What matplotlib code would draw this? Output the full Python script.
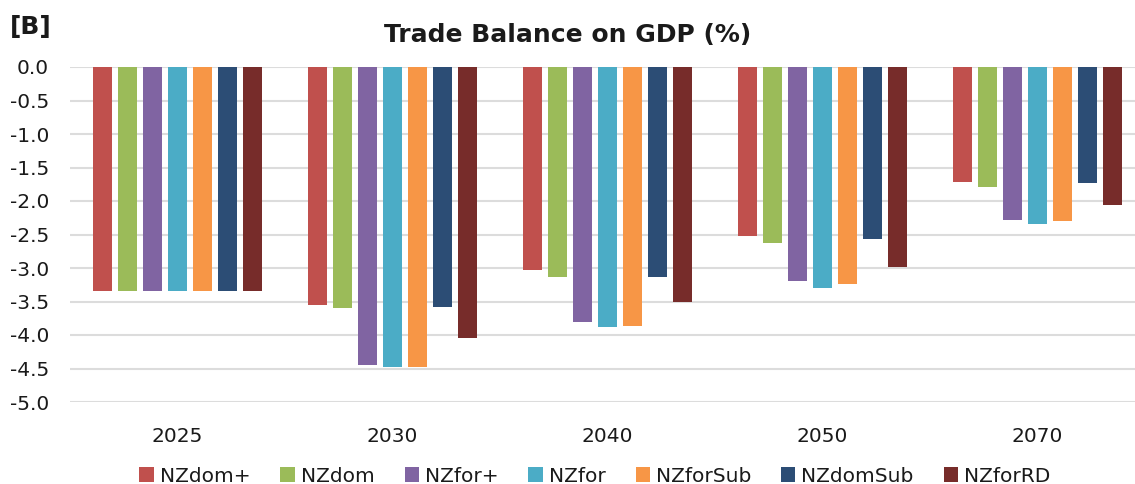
import numpy as np
import matplotlib
matplotlib.use("Agg")
from matplotlib import pyplot as plt

years = ["2025", "2030", "2040", "2050", "2070"]
scenarios = ["NZdom+", "NZdom", "NZfor+", "NZfor", "NZforSub", "NZdomSub", "NZforRD"]

nzdom_plus = [-3.35, -3.55, -3.03, -2.52, -1.72]
nzdom = [-3.35, -3.59, -3.13, -2.63, -1.79]
nzfor_plus = [-3.35, -4.45, -3.80, -3.20, -2.29]
nzfor = [-3.35, -4.48, -3.88, -3.30, -2.34]
nzfor_sub = [-3.35, -4.48, -3.87, -3.24, -2.30]
nzdom_sub = [-3.35, -3.58, -3.13, -2.57, -1.73]
nzfor_rd = [-3.35, -4.04, -3.51, -2.98, -2.06]

series = [nzdom_plus, nzdom, nzfor_plus, nzfor, nzfor_sub, nzdom_sub, nzfor_rd]
colors = ["#C0504D", "#9BBB59", "#8064A2", "#4BACC6", "#F79646", "#2C4D75", "#772C2A"]

plt.rcParams["font.family"] = ["DejaVu Sans"]
txt = "#1a1a1a"

fig = plt.figure(figsize=(11.35, 4.84), dpi=100)
ax = fig.add_axes([70 / 1135, 1 - 402 / 484, 1075 / 1135, 335 / 484])

x = np.arange(len(years))
pitch = 0.1163
width = 0.09
for i, (vals, c, name) in enumerate(zip(series, colors, scenarios)):
    ax.bar(x + (i - 3) * pitch, vals, width, color=c, label=name, zorder=3)

ax.set_xlim(-0.5, len(years) - 0.5)
ax.set_ylim(-5.0, 0.0)
ax.set_yticks(np.arange(-5.0, 0.01, 0.5))
ax.set_yticklabels([f"{v:.1f}" for v in np.arange(-5.0, 0.01, 0.5)])
ax.set_xticks(x)
ax.set_xticklabels(years)
ax.tick_params(axis="y", length=0, pad=15, labelsize=14.5, labelcolor=txt)
ax.tick_params(axis="x", length=0, pad=18, labelsize=14.5, labelcolor=txt)
ax.yaxis.grid(True, color="#dcdcdc", linewidth=1.5, zorder=0)
for s in ax.spines.values():
    s.set_visible(False)

fig.text(0.5, 1 - 35 / 484, "Trade Balance on GDP (%)", ha="center", va="center",
         fontsize=18, fontweight="bold", color=txt)
fig.text(10 / 1135, 1 - 27 / 484, "[B]", ha="left", va="center",
         fontsize=18, fontweight="bold", color=txt)

fig.legend(loc="center", bbox_to_anchor=(595 / 1135, 1 - 476 / 484), ncol=7,
           frameon=False, fontsize=14.5, handlelength=0.7, handleheight=0.7,
           handletextpad=0.3, columnspacing=1.5, labelcolor=txt)

fig.savefig("out.png", dpi=100)
